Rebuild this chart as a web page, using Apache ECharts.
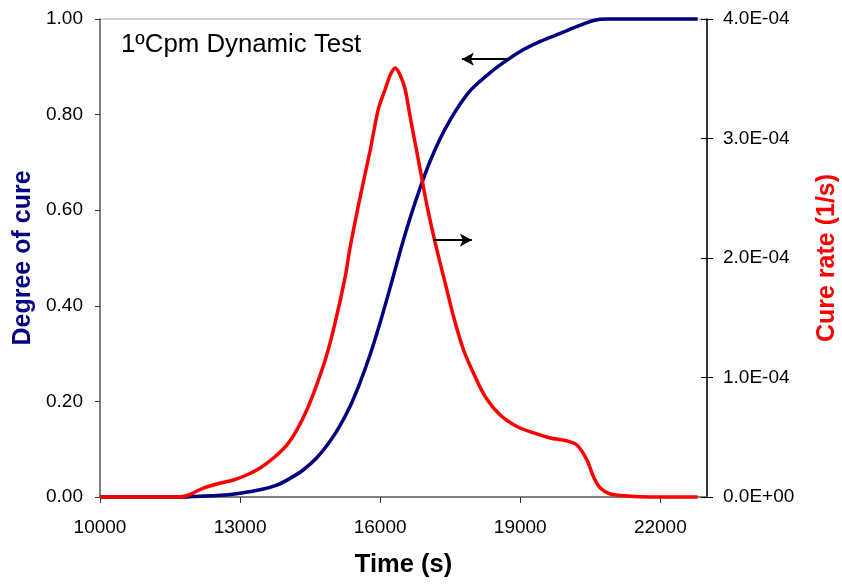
<!DOCTYPE html>
<html>
<head>
<meta charset="utf-8">
<script src="https://cdn.jsdelivr.net/npm/echarts@6/dist/echarts.min.js"></script>
<style>html,body{margin:0;padding:0;background:#fff}#c{width:842px;height:584px}</style>
</head>
<body>
<div id="c"></div>
<script>
// ---- data ----
const titleText = '1ºCpm Dynamic Test';
const xTitle = 'Time (s)';
const yLeftTitle = 'Degree of cure';
const yRightTitle = 'Cure rate (1/s)';

const cureTime = [10000,11700,12000,12500,13000,13429,13786,14071,14357,14643,14929,15143,15357,15571,15786,16000,16214,16429,16643,16857,17071,17286,17500,17714,17929,18143,18357,18571,19000,19429,19857,20286,20571,20857,22800];
const cureDegree = [0,0,0.001,0.003,0.008,0.015,0.025,0.039,0.057,0.082,0.117,0.150,0.190,0.240,0.298,0.365,0.438,0.514,0.584,0.647,0.703,0.75,0.789,0.822,0.85,0.87,0.888,0.904,0.932,0.953,0.97,0.987,0.997,1.0,1.0];

const rateTime = [10000,11700,11850,11993,12214,12500,12857,13143,13429,13714,14000,14214,14429,14643,14857,15036,15250,15357,15571,15786,15957,16107,16214,16321,16429,16536,16643,16750,16857,17007,17214,17393,17571,17786,18000,18250,18571,18929,19286,19643,20000,20214,20429,20571,20714,20929,21286,21786,22800];
const rateValue = [0,0,0.1e-5,0.33e-5,0.75e-5,1.09e-5,1.42e-5,1.84e-5,2.43e-5,3.26e-5,4.35e-5,5.6e-5,7.28e-5,9.4e-5,1.19e-4,1.46e-4,1.84e-4,2.09e-4,2.51e-4,2.9e-4,3.24e-4,3.41e-4,3.53e-4,3.59e-4,3.53e-4,3.41e-4,3.18e-4,2.96e-4,2.74e-4,2.43e-4,2.07e-4,1.79e-4,1.51e-4,1.23e-4,1.035e-4,8.4e-5,6.86e-5,5.9e-5,5.36e-5,4.94e-5,4.69e-5,4.35e-5,3.1e-5,1.67e-5,7.5e-6,2.5e-6,0.8e-6,0,0];

const degreeArrow = [[18751, 0.916], [17751, 0.916]];
const rateArrow = [[17136, 2.15e-4], [17964, 2.15e-4]];

const xTicks = {min: 10000, max: 23000, interval: 3000};
const yLeftTicks = {min: 0, max: 1, interval: 0.2};
const yRightTicks = {min: 0, max: 4e-4, interval: 1e-4};

// ---- chart ----
const FONT = '"Liberation Sans", Arial, sans-serif';
function sci(v){
  if (v === 0) return '0.0E+00';
  const e = Math.floor(Math.log10(Math.abs(v)) + 1e-9);
  const m = v / Math.pow(10, e);
  const ae = Math.abs(e);
  return m.toFixed(1) + 'E' + (e < 0 ? '-' : '+') + (ae < 10 ? '0' : '') + ae;
}
const zip = (a, b) => a.map((x, i) => [x, b[i]]);

const chart = echarts.init(document.getElementById('c'), null, {renderer: 'canvas'});
chart.setOption({
  animation: false,
  textStyle: {fontFamily: FONT},
  title: {text: titleText, left: 116, top: 27, textStyle: {fontFamily: FONT, fontSize: 25.8, fontWeight: 'normal', color: '#000'}},
  grid: {left: 100, right: 135, top: 19, bottom: 87, containLabel: false, outerBoundsMode: 'none',
         show: true, borderColor: '#a6a6a6', borderWidth: 1, backgroundColor: 'transparent'},
  xAxis: {
    type: 'value', min: xTicks.min, max: xTicks.max, interval: xTicks.interval,
    name: xTitle, nameLocation: 'middle', nameGap: 55,
    nameTextStyle: {fontFamily: FONT, fontSize: 25.5, fontWeight: 'bold', color: '#000'},
    axisLine: {show: true, lineStyle: {color: '#666', width: 1.5}},
    axisTick: {show: true, inside: false, length: 6, lineStyle: {color: '#333'}},
    axisLabel: {fontFamily: FONT, fontSize: 19, color: '#000', margin: 21, showMaxLabel: false, formatter: v => String(v)},
    splitLine: {show: false}
  },
  yAxis: [{
    type: 'value', position: 'left', min: yLeftTicks.min, max: yLeftTicks.max, interval: yLeftTicks.interval,
    name: yLeftTitle, nameLocation: 'middle', nameGap: 64, nameRotate: 90,
    nameTextStyle: {fontFamily: FONT, fontSize: 25, fontWeight: 'bold', color: '#000080'},
    axisLine: {show: true, lineStyle: {color: '#666', width: 1.5}},
    axisTick: {show: true, inside: false, length: 5, lineStyle: {color: '#333'}},
    axisLabel: {fontFamily: FONT, fontSize: 19, color: '#000', margin: 17, formatter: v => v.toFixed(2)},
    splitLine: {show: false}
  }, {
    type: 'value', position: 'right', min: yRightTicks.min, max: yRightTicks.max, interval: yRightTicks.interval,
    name: yRightTitle, nameLocation: 'middle', nameGap: 108, nameRotate: 90,
    nameTextStyle: {fontFamily: FONT, fontSize: 25, fontWeight: 'bold', color: '#ff0000'},
    axisLine: {show: true, lineStyle: {color: '#000', width: 1.5}},
    axisTick: {show: true, inside: false, length: 6, lineStyle: {color: '#000'}},
    axisLabel: {fontFamily: FONT, fontSize: 19, color: '#000', margin: 16, formatter: sci},
    splitLine: {show: false}
  }, {
    type: 'value', position: 'right', min: yRightTicks.min, max: yRightTicks.max, interval: yRightTicks.interval,
    axisLine: {show: false},
    axisTick: {show: true, inside: true, length: 6, lineStyle: {color: '#000'}},
    axisLabel: {show: false},
    splitLine: {show: false}
  }],
  series: [{
    type: 'line', name: 'Degree of cure', xAxisIndex: 0, yAxisIndex: 0,
    data: zip(cureTime, cureDegree), showSymbol: false, symbol: 'none',
    smooth: 0.3, clip: false,
    lineStyle: {color: '#000080', width: 3.5},
    markLine: {
      silent: true, symbol: ['none', 'arrow'], symbolSize: [10, 12], animation: false,
      label: {show: false},
      lineStyle: {color: '#000', width: 2, type: 'solid'},
      data: [[{coord: degreeArrow[0]}, {coord: degreeArrow[1]}]]
    }
  }, {
    type: 'line', name: 'Cure rate', xAxisIndex: 0, yAxisIndex: 1,
    data: zip(rateTime, rateValue), showSymbol: false, symbol: 'none',
    smooth: 0.3, clip: false,
    lineStyle: {color: '#ff0000', width: 3.5},
    markLine: {
      silent: true, symbol: ['none', 'arrow'], symbolSize: [10, 12], animation: false,
      label: {show: false},
      lineStyle: {color: '#000', width: 2, type: 'solid'},
      data: [[{coord: rateArrow[0]}, {coord: rateArrow[1]}]]
    }
  }]
});
</script>
</body>
</html>
